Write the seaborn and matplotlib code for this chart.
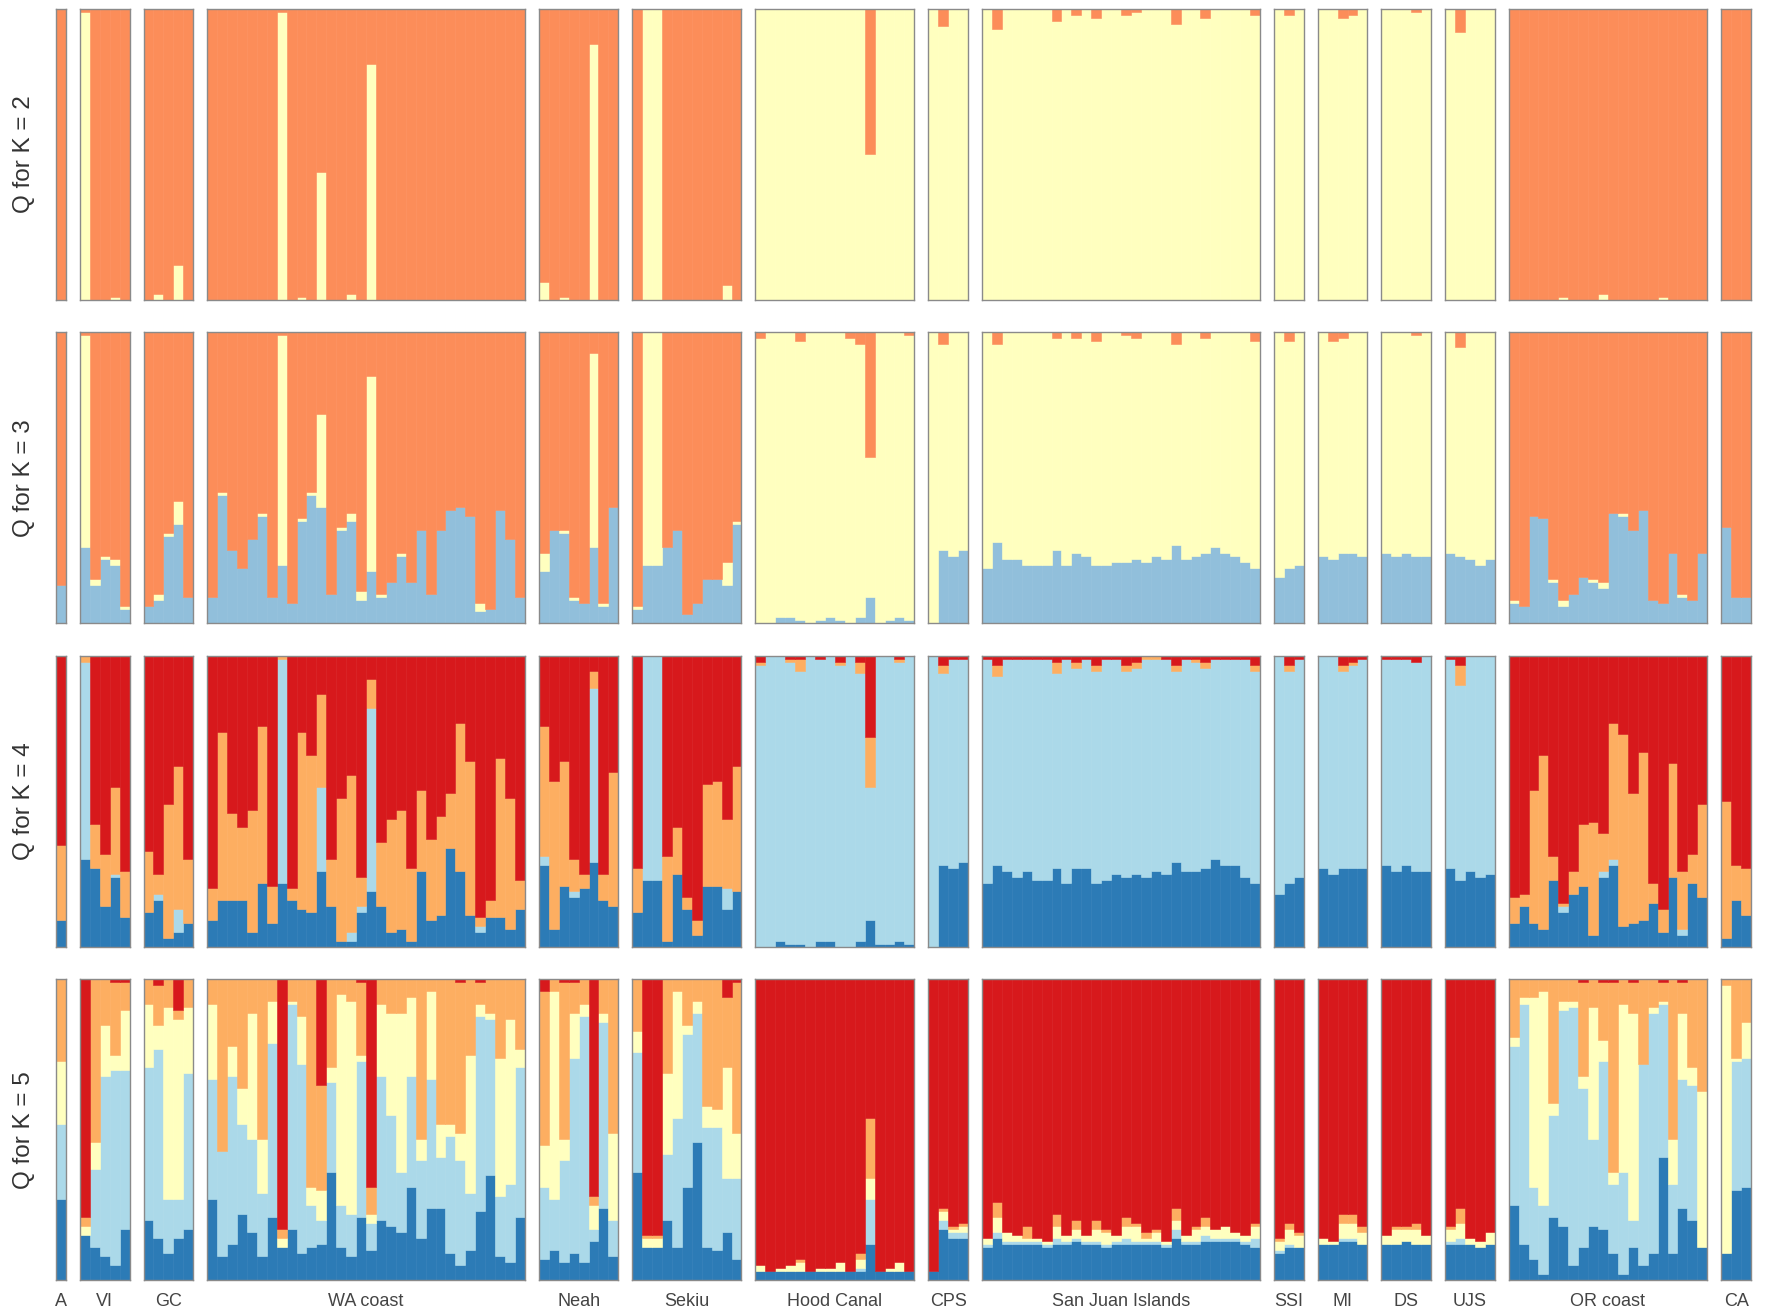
import numpy as np
import matplotlib
matplotlib.use("Agg")
import matplotlib.pyplot as plt
import seaborn as sns

# Populationen und Anzahl Individuen je Population
POPS = ["A", "VI", "GC", "WA coast", "Neah", "Sekiu", "Hood Canal", "CPS",
        "San Juan Islands", "SSI", "MI", "DS", "UJS", "OR coast", "CA"]
POP_SIZES = [1, 5, 5, 32, 8, 11, 16, 4, 28, 3, 5, 5, 5, 20, 3]

# Q-Werte in Prozent, kumulativ von unten (Oberkante jeder Schicht),
# die oberste Schicht fuellt jeweils bis 100 auf.

# K = 2: gelb (unten), orange (oben)
k2_edge1 = [
    0,                                                   # A
    99, 0, 0, 1, 0,                                      # VI
    0, 2, 0, 12, 0,                                      # GC
    0, 0, 0, 0, 0, 0, 0, 99, 0, 1, 0, 44, 0, 0, 2, 0,    # WA coast
    81, 0, 0, 0, 0, 0, 0, 0, 0, 0, 0, 0, 0, 0, 0, 0,
    6, 0, 1, 0, 0, 88, 0, 0,                             # Neah
    0, 100, 100, 0, 0, 0, 0, 0, 0, 5, 0,                 # Sekiu
    100, 100, 100, 100, 100, 100, 100, 100,              # Hood Canal
    100, 100, 100, 50, 100, 100, 100, 100,
    100, 94, 100, 100,                                   # CPS
    100, 93, 100, 100, 100, 100, 100, 96, 100, 98, 100, 97, 100, 100,   # SJI
    98, 99, 100, 100, 100, 95, 100, 100, 97, 100, 100, 100, 100, 98,
    100, 98, 100,                                        # SSI
    100, 100, 97, 98, 100,                               # MI
    100, 100, 100, 99, 100,                              # DS
    100, 92, 100, 100, 100,                              # UJS
    0, 0, 0, 0, 0, 1, 0, 0, 0, 2, 0, 0, 0, 0, 0, 1, 0, 0, 0, 0,        # OR coast
    0, 0, 0,                                             # CA
]

# K = 3: blau, gelb, orange
k3_edge1 = [
    13,
    26, 13, 22, 20, 5,
    6, 8, 30, 34, 9,
    9, 44, 25, 19, 29, 37, 9, 20, 7, 35, 44, 40, 10, 32, 35, 8,
    18, 9, 14, 23, 14, 32, 10, 32, 39, 40, 37, 4, 5, 39, 29, 9,
    18, 32, 31, 8, 7, 26, 6, 40,
    5, 20, 20, 26, 32, 3, 7, 15, 15, 13, 34,
    0, 0, 2, 2, 1, 0, 1, 2, 1, 0, 2, 9, 0, 1, 2, 1,
    0, 25, 23, 25,
    19, 28, 22, 22, 20, 20, 20, 25, 20, 24, 23, 20, 20, 21,
    21, 22, 21, 23, 22, 27, 22, 23, 24, 26, 24, 23, 21, 19,
    16, 19, 20,
    23, 22, 24, 24, 23,
    24, 23, 24, 23, 23,
    24, 23, 22, 20, 22,
    7, 6, 37, 36, 14, 6, 10, 16, 14, 12, 38, 37, 32, 39, 8, 7, 24, 9, 8, 24,
    33, 9, 9,
]
k3_edge2 = [
    13,
    99, 15, 23, 22, 6,
    6, 10, 31, 42, 9,
    9, 45, 25, 19, 29, 38, 9, 99, 7, 36, 45, 72, 10, 33, 38, 11,
    85, 10, 14, 24, 14, 32, 10, 32, 39, 40, 37, 7, 5, 39, 29, 9,
    24, 32, 32, 9, 7, 93, 7, 40,
    6, 100, 100, 26, 32, 3, 7, 15, 15, 21, 35,
    98, 100, 100, 100, 97, 100, 100, 100, 100, 98, 96, 57, 100, 100, 100, 99,
    100, 96, 100, 100,
    100, 96, 100, 100, 100, 100, 100, 98, 100, 98, 100, 97, 100, 100,
    99, 98, 100, 100, 100, 96, 100, 100, 98, 100, 100, 100, 100, 97,
    100, 97, 100,
    100, 97, 98, 100, 100,
    100, 100, 100, 99, 100,
    100, 95, 100, 100, 100,
    8, 6, 37, 36, 15, 8, 10, 16, 15, 14, 38, 38, 32, 39, 8, 7, 24, 10, 8, 24,
    33, 9, 9,
]

# K = 4: dunkelblau, hellblau, orange, rot
k4_edge1 = [
    9,
    30, 27, 14, 24, 10,
    12, 16, 3, 5, 8,
    9, 16, 16, 16, 5, 22, 8, 22, 16, 13, 12, 26, 14, 2, 2, 12,
    19, 14, 5, 6, 2, 26, 9, 11, 34, 26, 11, 5, 10, 10, 6, 13,
    28, 6, 21, 17, 20, 29, 16, 14,
    12, 23, 23, 2, 25, 13, 4, 21, 21, 13, 19,
    0, 0, 2, 1, 1, 0, 2, 2, 0, 0, 2, 9, 1, 1, 2, 1,
    0, 28, 27, 29,
    22, 28, 26, 24, 26, 23, 23, 27, 22, 27, 27, 22, 23, 25,
    24, 25, 24, 26, 25, 29, 26, 26, 27, 30, 28, 28, 24, 22,
    18, 22, 24,
    27, 25, 27, 27, 27,
    28, 26, 28, 26, 26,
    27, 23, 26, 24, 25,
    8, 14, 8, 6, 23, 12, 18, 21, 4, 24, 28, 7, 8, 9, 15, 5, 24, 4, 22, 17,
    3, 16, 11,
]
k4_edge2 = [
    9,
    98, 27, 14, 25, 10,
    12, 18, 3, 13, 8,
    9, 16, 16, 16, 5, 22, 8, 99, 16, 13, 12, 55, 14, 2, 5, 14,
    82, 14, 5, 6, 2, 26, 9, 11, 34, 26, 11, 7, 10, 10, 6, 13,
    31, 6, 21, 19, 20, 89, 16, 14,
    12, 100, 100, 2, 25, 13, 4, 21, 21, 20, 19,
    97, 100, 100, 98, 95, 100, 99, 100, 97, 100, 94, 55, 100, 100, 98, 100,
    100, 94, 99, 99,
    99, 93, 99, 99, 99, 99, 99, 94, 99, 96, 99, 95, 99, 99,
    95, 96, 99, 99, 99, 95, 99, 98, 96, 99, 99, 99, 99, 95,
    100, 95, 99,
    100, 100, 95, 97, 99,
    99, 99, 99, 98, 100,
    99, 90, 100, 100, 100,
    8, 14, 8, 6, 23, 14, 18, 21, 4, 26, 30, 7, 8, 9, 15, 5, 24, 6, 22, 17,
    3, 16, 11,
]
k4_edge3 = [
    35,
    100, 42, 32, 55, 26,
    33, 25, 49, 62, 30,
    20, 74, 46, 41, 47, 76, 21, 100, 20, 74, 66, 87, 30, 51, 59, 24,
    92, 36, 44, 47, 27, 54, 37, 45, 53, 77, 64, 10, 16, 65, 51, 23,
    76, 57, 64, 30, 25, 95, 25, 60,
    27, 100, 100, 31, 41, 17, 9, 56, 57, 44, 62,
    98, 100, 100, 99, 99, 100, 99, 100, 98, 100, 98, 72, 100, 100, 99, 100,
    100, 97, 99, 99,
    99, 97, 99, 99, 99, 99, 99, 98, 99, 98, 99, 97, 99, 99,
    97, 98, 100, 100, 99, 97, 99, 99, 98, 99, 99, 99, 99, 97,
    100, 97, 99,
    100, 100, 97, 98, 99,
    99, 99, 99, 98, 100,
    99, 97, 100, 100, 100,
    17, 18, 54, 66, 31, 15, 26, 42, 43, 39, 77, 73, 53, 67, 22, 13, 63, 26, 32, 49,
    50, 28, 27,
]

# K = 5: dunkelblau, hellblau, gelb, orange, rot
k5_edge1 = [
    27,
    15, 11, 8, 5, 17,
    20, 14, 9, 14, 17,
    27, 8, 12, 22, 16, 8, 21, 11, 17, 9, 11, 12, 36, 11, 8, 21,
    10, 20, 18, 16, 31, 14, 24, 24, 9, 5, 10, 23, 35, 8, 6, 21,
    7, 10, 6, 9, 6, 13, 24, 8,
    36, 11, 11, 20, 11, 31, 46, 11, 10, 16, 7,
    3, 3, 3, 3, 3, 3, 3, 3, 3, 3, 3, 12, 3, 3, 3, 3,
    3, 17, 14, 14,
    11, 14, 12, 12, 12, 12, 11, 12, 12, 13, 12, 12, 11, 12,
    12, 12, 12, 12, 11, 14, 12, 12, 13, 13, 13, 13, 12, 11,
    9, 11, 11,
    12, 12, 13, 13, 12,
    12, 12, 13, 12, 12,
    12, 12, 12, 11, 12,
    25, 12, 7, 2, 21, 18, 5, 11, 18, 17, 9, 2, 11, 5, 9, 41, 9, 24, 20, 11,
    9, 30, 31,
]
k5_edge2 = [
    52,
    15, 37, 68, 70, 70,
    71, 77, 27, 27, 69,
    67, 43, 68, 52, 47, 29, 79, 11, 92, 72, 25, 20, 66, 25, 22, 73,
    19, 68, 55, 36, 68, 40, 67, 41, 48, 40, 29, 88, 87, 28, 32, 71,
    31, 27, 40, 74, 88, 17, 86, 20,
    76, 11, 11, 42, 54, 82, 89, 51, 51, 34, 34,
    3, 3, 3, 3, 3, 3, 3, 3, 3, 3, 4, 27, 3, 3, 3, 3,
    3, 20, 16, 16,
    12, 16, 13, 13, 13, 13, 12, 14, 13, 14, 13, 13, 12, 13,
    14, 13, 13, 13, 12, 17, 13, 13, 15, 14, 14, 14, 13, 14,
    10, 12, 11,
    12, 12, 14, 14, 12,
    12, 12, 13, 12, 12,
    13, 14, 12, 11, 12,
    78, 92, 31, 25, 55, 90, 91, 64, 47, 73, 32, 36, 20, 72, 89, 92, 32, 67, 65, 11,
    9, 73, 74,
]
k5_edge3 = [
    73,
    18, 46, 85, 75, 90,
    92, 85, 91, 87, 91,
    92, 43, 78, 64, 89, 47, 93, 14, 93, 88, 31, 30, 71, 95, 93, 75,
    22, 92, 89, 89, 94, 47, 96, 52, 52, 49, 75, 92, 89, 74, 87, 77,
    45, 96, 47, 89, 92, 25, 89, 49,
    83, 14, 14, 69, 96, 85, 93, 58, 57, 71, 49,
    5, 3, 4, 5, 6, 3, 4, 4, 6, 3, 7, 34, 3, 4, 6, 3,
    3, 23, 17, 18,
    14, 21, 16, 15, 14, 14, 13, 18, 15, 17, 15, 17, 16, 15,
    18, 18, 14, 16, 13, 20, 15, 17, 18, 17, 18, 16, 15, 18,
    13, 17, 15,
    14, 13, 19, 19, 16,
    15, 17, 17, 17, 15,
    17, 19, 14, 13, 16,
    81, 94, 94, 96, 59, 93, 93, 68, 91, 80, 36, 92, 89, 72, 91, 93, 47, 89, 71, 63,
    98, 74, 86,
]
k5_edge4 = [
    100,
    21, 100, 100, 99, 99,
    100, 98, 100, 90, 100,
    100, 100, 100, 100, 100, 100, 100, 17, 100, 100, 100, 65, 100, 100, 100, 99,
    31, 100, 100, 100, 100, 100, 100, 100, 100, 99, 100, 99, 100, 100, 100, 100,
    96, 100, 99, 99, 100, 28, 100, 100,
    100, 15, 15, 100, 100, 100, 100, 100, 100, 94, 99,
    5, 3, 4, 5, 7, 3, 4, 4, 6, 3, 9, 54, 3, 4, 6, 3,
    3, 24, 18, 19,
    14, 26, 16, 15, 18, 14, 13, 22, 15, 20, 15, 20, 17, 15,
    21, 19, 16, 17, 13, 24, 15, 18, 21, 17, 18, 16, 15, 19,
    14, 19, 16,
    14, 13, 22, 22, 18,
    15, 18, 18, 19, 15,
    18, 24, 14, 13, 16,
    100, 100, 100, 100, 100, 100, 100, 99, 100, 99, 99, 100, 99, 100, 100, 99, 100, 99, 100, 100,
    100, 100, 100,
]

# Farben (ColorBrewer RdYlBu), von unten nach oben
COLORS = {
    2: ["#ffffbf", "#fc8d59"],
    3: ["#91bfdb", "#ffffbf", "#fc8d59"],
    4: ["#2c7bb6", "#abd9e9", "#fdae61", "#d7191c"],
    5: ["#2c7bb6", "#abd9e9", "#ffffbf", "#fdae61", "#d7191c"],
}

ROWS = [
    (2, [k2_edge1]),
    (3, [k3_edge1, k3_edge2]),
    (4, [k4_edge1, k4_edge2, k4_edge3]),
    (5, [k5_edge1, k5_edge2, k5_edge3, k5_edge4]),
]


def q_schichten(edges):
    cum = np.array(edges, dtype=float) / 100.0
    cum = np.clip(np.maximum.accumulate(cum, axis=0), 0, 1)
    n = cum.shape[1]
    unten = np.vstack([np.zeros(n), cum])
    oben = np.vstack([cum, np.ones(n)])
    return unten, oben - unten


sns.set_theme(style="white")
plt.rcParams["font.family"] = ["Liberation Sans", "DejaVu Sans"]

W, H = 1767, 1311
fig, axes = plt.subplots(
    4, len(POPS), figsize=(W / 100, H / 100), dpi=100,
    gridspec_kw=dict(width_ratios=POP_SIZES, height_ratios=[291, 291, 291, 301],
                     left=56 / W, right=1751 / W, top=1 - 9 / H, bottom=1 - 1280 / H,
                     wspace=0.14, hspace=0.1124))

starts = np.concatenate([[0], np.cumsum(POP_SIZES)])

for r, (k, edges) in enumerate(ROWS):
    unten, hoehe = q_schichten(edges)
    for p, name in enumerate(POPS):
        ax = axes[r, p]
        sl = slice(starts[p], starts[p + 1])
        x = np.arange(POP_SIZES[p])
        for j in range(k):
            h = hoehe[j, sl]
            b = unten[j, sl]
            m = h > 0.001
            if m.any():
                ax.bar(x[m], h[m], bottom=b[m], width=1.0, color=COLORS[k][j],
                       edgecolor=COLORS[k][j], linewidth=0.4)
        ax.set_xlim(-0.5, POP_SIZES[p] - 0.5)
        ax.set_ylim(0, 1)
        ax.set_xticks([])
        ax.set_yticks([])
        for s in ax.spines.values():
            s.set_visible(True)
            s.set_color("#8a8a8a")
            s.set_linewidth(1.0)
        if r == len(ROWS) - 1:
            ax.text(0.5, -0.043, name, transform=ax.transAxes, ha="center", va="top",
                    fontsize=13, color="#444444")

    pos = axes[r, 0].get_position()
    fig.text(24 / W, (pos.y0 + pos.y1) / 2, f"Q for K = {k}", rotation=90,
             ha="center", va="center", fontsize=17.5, color="#333333")

plt.savefig("out.png", dpi=100, facecolor="white")
